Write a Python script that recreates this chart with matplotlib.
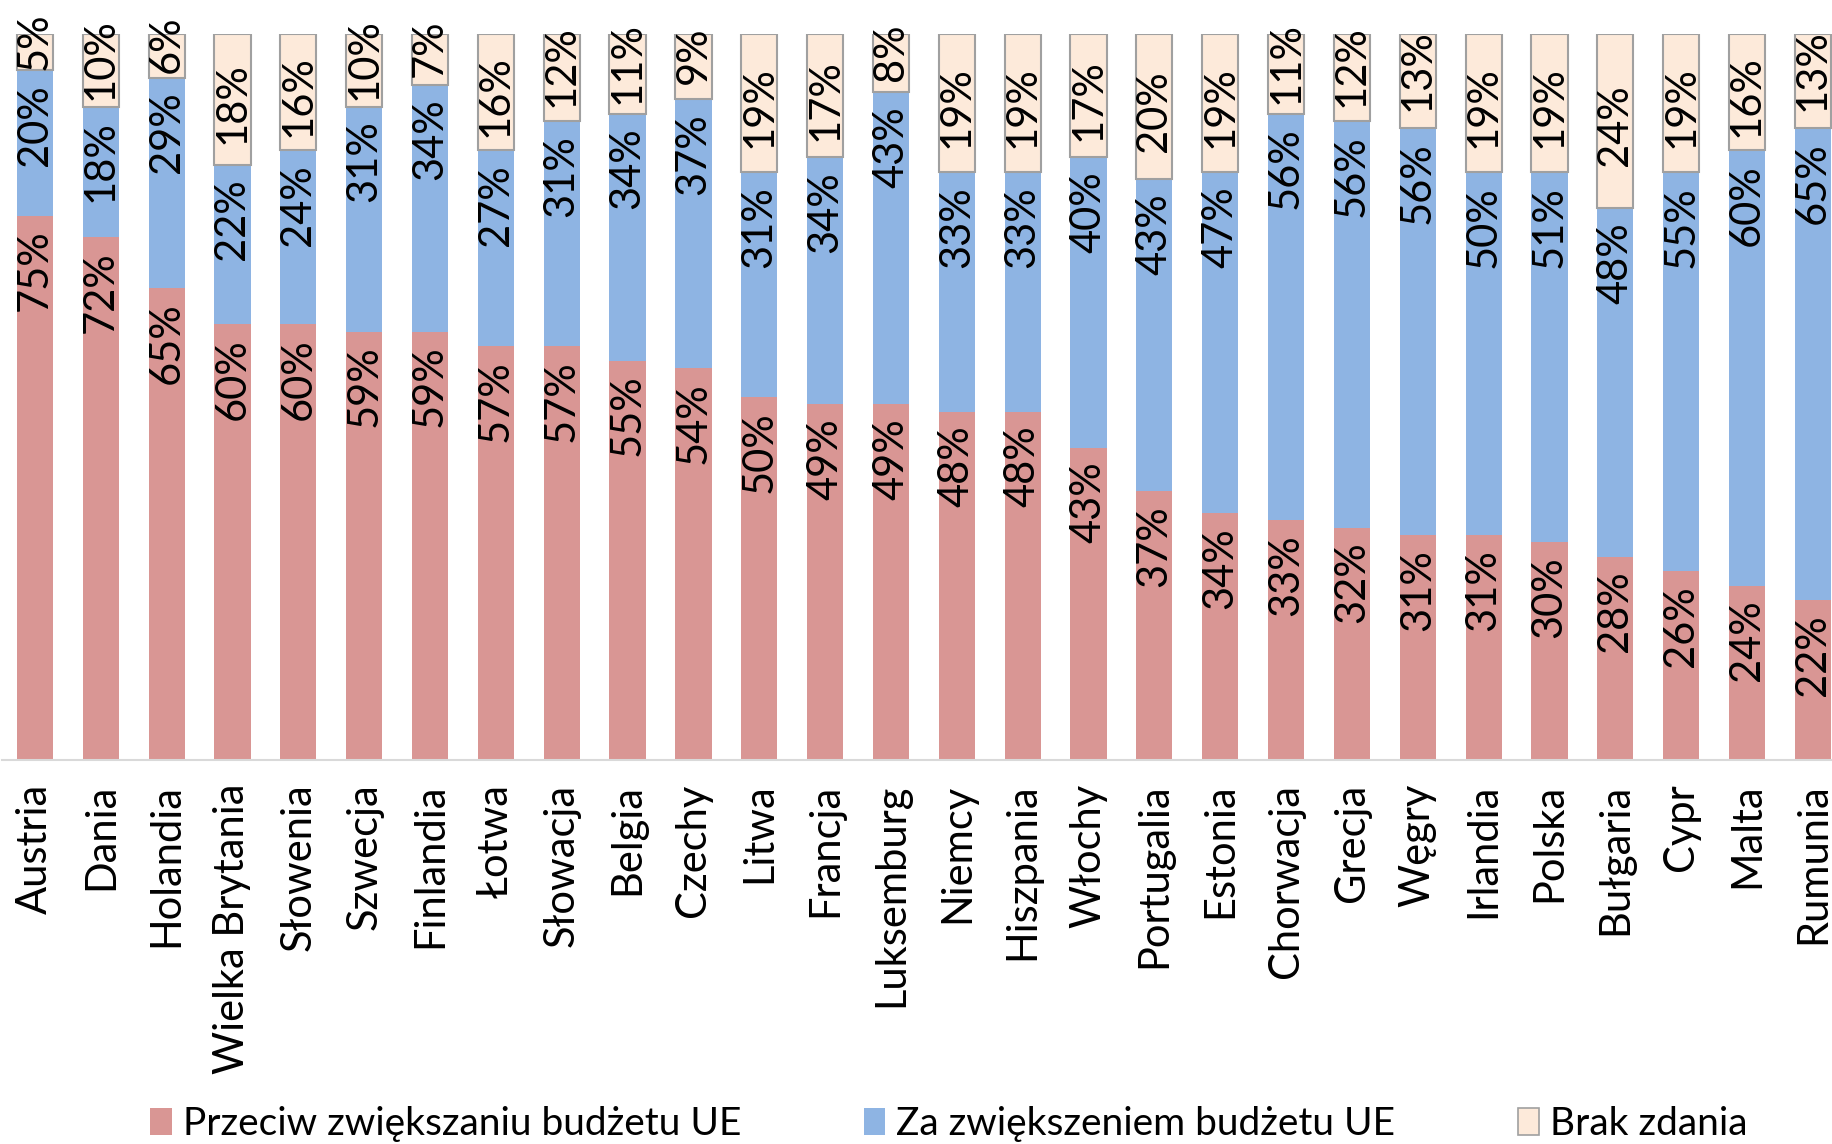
import matplotlib
matplotlib.use("Agg")
import matplotlib.pyplot as plt
from matplotlib.patches import Patch

plt.rcParams['font.family'] = ['Lato', 'DejaVu Sans']

# dane (%)
countries = ["Austria", "Dania", "Holandia", "Wielka Brytania", "Słowenia", "Szwecja",
             "Finlandia", "Łotwa", "Słowacja", "Belgia", "Czechy", "Litwa", "Francja",
             "Luksemburg", "Niemcy", "Hiszpania", "Włochy", "Portugalia", "Estonia",
             "Chorwacja", "Grecja", "Węgry", "Irlandia", "Polska", "Bułgaria", "Cypr",
             "Malta", "Rumunia"]
against = [75, 72, 65, 60, 60, 59, 59, 57, 57, 55, 54, 50, 49, 49, 48, 48, 43, 37, 34,
           33, 32, 31, 31, 30, 28, 26, 24, 22]
in_favour = [20, 18, 29, 22, 24, 31, 34, 27, 31, 34, 37, 31, 34, 43, 33, 33, 40, 43, 47,
             56, 56, 56, 50, 51, 48, 55, 60, 65]
no_opinion = [5, 10, 6, 18, 16, 10, 7, 16, 12, 11, 9, 19, 17, 8, 19, 19, 17, 20, 19,
              11, 12, 13, 19, 19, 24, 19, 16, 13]

legend_labels = ["Przeciw zwiększaniu budżetu UE", "Za zwiększeniem budżetu UE", "Brak zdania"]

C_RED = "#D99694"
C_BLUE = "#8EB4E3"
C_BEIGE = "#FDEADA"
FS = 30
FS_LEG = 28

W, H = 1832, 1144
fig = plt.figure(figsize=(W / 100, H / 100), dpi=100)
# obszar wykresu wychodzi poza prawą krawędź (ostatni słupek jest ucięty)
ax = fig.add_axes([2 / W, 1 - 760 / H, 1830 / W, (760 - 34) / H])

x = list(range(len(countries)))
bw = 0.55
bottom2 = [a + b for a, b in zip(against, in_favour)]

ax.bar(x, against, width=bw, color=C_RED, linewidth=0)
ax.bar(x, in_favour, width=bw, bottom=against, color=C_BLUE, linewidth=0)
ax.bar(x, no_opinion, width=bw, bottom=bottom2, color=C_BEIGE,
       edgecolor="#A0A0A0", linewidth=1.5)

# etykiety wartości
for i in x:
    ax.annotate(f"{against[i]}%", xy=(i, against[i]), xytext=(0, -10),
                textcoords="offset points", rotation=90, ha="center", va="top",
                fontsize=FS)
    ax.annotate(f"{in_favour[i]}%", xy=(i, bottom2[i]), xytext=(0, -10),
                textcoords="offset points", rotation=90, ha="center", va="top",
                fontsize=FS)
    # małe pola: etykieta lekko przesunięta w górę, jak w oryginale
    shift = 8 if no_opinion[i] <= 13 else -3
    ax.annotate(f"{no_opinion[i]}%", xy=(i, bottom2[i] + no_opinion[i] / 2),
                xytext=(0, shift), textcoords="offset points", rotation=90,
                ha="center", va="center", fontsize=FS)

ax.set_xlim(-0.5, -0.5 + 1830 / 65.85)
ax.set_ylim(0, 100)
ax.set_xticks(x)
ax.set_xticklabels(countries, rotation=90, fontsize=FS)
ax.tick_params(axis="x", length=0, pad=17)
ax.set_yticks([])
for s in ["top", "right", "left"]:
    ax.spines[s].set_visible(False)
ax.spines["bottom"].set_color("#D9D9D9")
ax.spines["bottom"].set_linewidth(1.5)

handles = [Patch(facecolor=C_RED, edgecolor="none"),
           Patch(facecolor=C_BLUE, edgecolor="none"),
           Patch(facecolor=C_BEIGE, edgecolor="#A0A0A0", linewidth=1.2)]
fig.legend(handles, legend_labels, ncol=3, loc="upper left",
           bbox_to_anchor=(150 / W, 1 - 1106 / H), frameon=False, fontsize=FS_LEG,
           borderpad=0, borderaxespad=0, handlelength=0.56, handleheight=0.67,
           handletextpad=0.28, columnspacing=3.15)

fig.savefig("out.png", dpi=100)
